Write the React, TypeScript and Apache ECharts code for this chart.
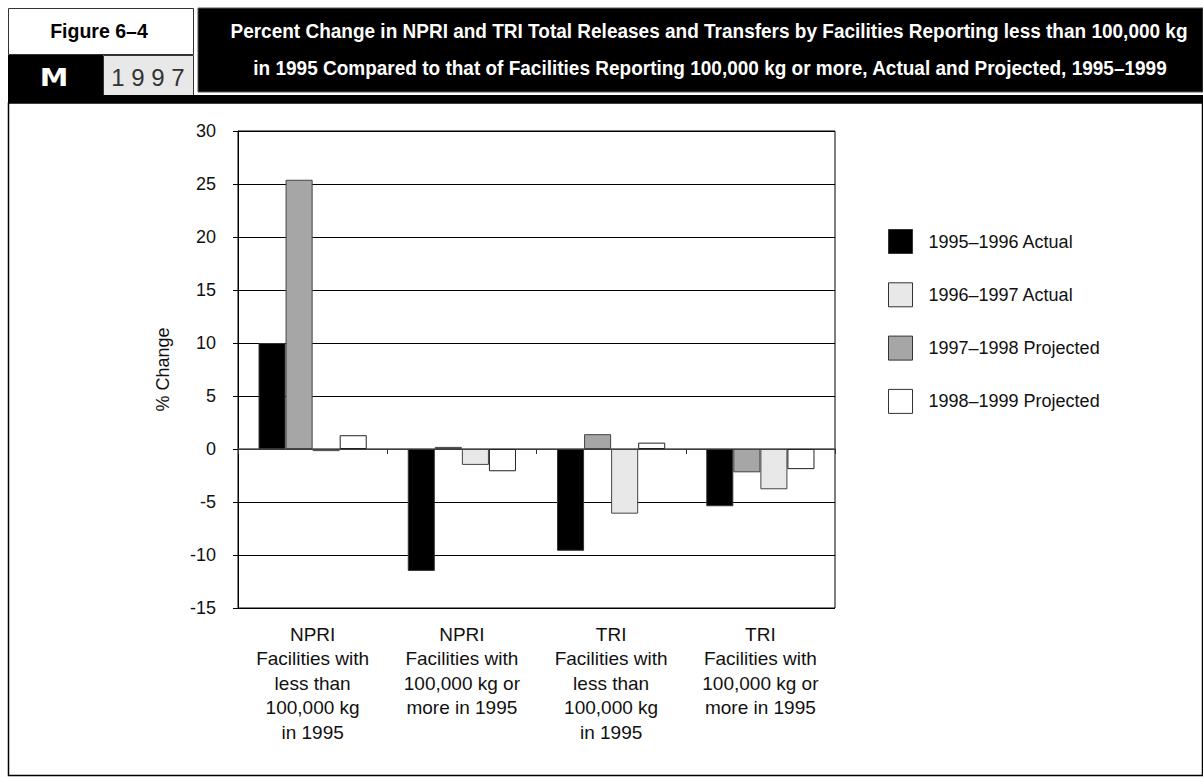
import React, { useEffect, useRef } from "react";
import * as echarts from "echarts";

const categories = [
  "NPRI\nFacilities with\nless than\n100,000 kg\nin 1995",
  "NPRI\nFacilities with\n100,000 kg or\nmore in 1995",
  "TRI\nFacilities with\nless than\n100,000 kg\nin 1995",
  "TRI\nFacilities with\n100,000 kg or\nmore in 1995",
];
const seriesNames = ["1995–1996 Actual", "1996–1997 Actual", "1997–1998 Projected", "1998–1999 Projected"];
const actual9596 = [10.0, -11.5, -9.6, -5.4];
const actual9697 = [-0.2, -1.5, -6.1, -3.8];
const projected9798 = [25.4, 0.2, 1.4, -2.2];
const projected9899 = [1.3, -2.1, 0.6, -1.9];
const yTicks = { min: -15, max: 30, interval: 5 };
const figureLabel = "Figure 6–4";
const badgeLetter = "M";
const badgeYear = "1 9 9 7";
const titleLines = [
  "Percent Change in NPRI and TRI Total Releases and Transfers by Facilities Reporting less than 100,000 kg",
  "in 1995 Compared to that of Facilities Reporting 100,000 kg or more, Actual and Projected, 1995–1999",
];
const yAxisTitle = "% Change";

const FONT = "'Liberation Sans', Arial, sans-serif";

export default function App() {
  const ref = useRef<HTMLDivElement>(null);
  useEffect(() => {
    if (!ref.current) return;
    const chart = echarts.init(ref.current, null, { renderer: "svg" });
    const barBase = { type: "bar", xAxisIndex: 0, yAxisIndex: 0, barGap: "0%", barCategoryGap: "27.5%" };
    chart.setOption({
      animation: false,
      backgroundColor: "#fff",
      grid: {
        left: 238,
        right: 368,
        top: 131,
        bottom: 169,
        show: true,
        borderColor: "#000",
        borderWidth: 1,
        backgroundColor: "transparent",
      },
      legend: {
        orient: "vertical",
        left: 888,
        top: 229,
        itemWidth: 24,
        itemHeight: 24,
        itemGap: 28.3,
        icon: "rect",
        data: seriesNames,
        selectedMode: false,
        padding: 0,
        itemStyle: { borderColor: "#333", borderWidth: 1 },
        textStyle: { fontFamily: FONT, fontSize: 18, color: "#111", padding: [0, 0, 0, 11] },
      },
      xAxis: [
        {
          type: "category",
          data: categories,
          axisLine: { show: true, onZero: true, lineStyle: { color: "#555", width: 1.5 } },
          axisTick: { show: true, length: 5, alignWithLabel: false, lineStyle: { color: "#333" } },
          axisLabel: { show: false },
          splitLine: { show: false },
        },
        {
          type: "category",
          data: categories,
          position: "bottom",
          axisLine: { show: false, onZero: false },
          axisTick: { show: false },
          axisLabel: {
            show: true,
            interval: 0,
            margin: 14,
            fontFamily: FONT,
            fontSize: 19,
            lineHeight: 24.5,
            color: "#111",
            align: "center",
          },
        },
      ],
      yAxis: {
        type: "value",
        min: yTicks.min,
        max: yTicks.max,
        interval: yTicks.interval,
        name: yAxisTitle,
        nameLocation: "middle",
        nameGap: 66,
        nameRotate: 90,
        nameTextStyle: { fontFamily: FONT, fontSize: 18, color: "#111" },
        axisLine: { show: true, lineStyle: { color: "#000", width: 1 } },
        axisTick: { show: true, length: 5, lineStyle: { color: "#000" } },
        axisLabel: { margin: 22, fontFamily: FONT, fontSize: 18, color: "#111" },
        splitLine: { show: true, lineStyle: { color: "#000", width: 1 } },
      },
      series: [
        {
          ...barBase,
          name: seriesNames[0],
          data: actual9596,
          itemStyle: { color: "#000", borderColor: "#333", borderWidth: 1 },
        },
        {
          ...barBase,
          name: seriesNames[2],
          data: projected9798,
          itemStyle: { color: "#a6a6a6", borderColor: "#444", borderWidth: 1 },
        },
        {
          ...barBase,
          name: seriesNames[1],
          data: actual9697,
          itemStyle: { color: "#e8e8e8", borderColor: "#444", borderWidth: 1 },
        },
        {
          ...barBase,
          name: seriesNames[3],
          data: projected9899,
          itemStyle: { color: "#fff", borderColor: "#222", borderWidth: 1 },
        },
      ],
      graphic: [
        { type: "rect", silent: true, shape: { x: 8.5, y: 8.5, width: 185, height: 46 }, style: { fill: "#fff", stroke: "#333", lineWidth: 1 } },
        {
          type: "text",
          silent: true,
          x: 99,
          y: 31,
          scaleX: 0.93,
          style: { text: figureLabel, fill: "#000", font: `bold 21px ${FONT}`, textAlign: "center", textVerticalAlign: "middle" },
        },
        { type: "rect", silent: true, shape: { x: 8, y: 55, width: 95, height: 42 }, style: { fill: "#000" } },
        {
          type: "text",
          silent: true,
          x: 54,
          y: 77,
          scaleX: 1.15,
          style: { text: badgeLetter, fill: "#fff", font: `bold 25px 'DejaVu Sans', sans-serif`, textAlign: "center", textVerticalAlign: "middle" },
        },
        { type: "rect", silent: true, shape: { x: 103.5, y: 55.5, width: 90, height: 40 }, style: { fill: "#e8e8e8", stroke: "#333", lineWidth: 1 } },
        {
          type: "text",
          silent: true,
          x: 148,
          y: 77,
          scaleX: 1.0,
          style: { text: badgeYear, fill: "#333", font: `24px ${FONT}`, textAlign: "center", textVerticalAlign: "middle" },
        },
        { type: "rect", silent: true, shape: { x: 198, y: 8, width: 1005, height: 84 }, style: { fill: "#000", stroke: "#555", lineWidth: 1 } },
        {
          type: "text",
          silent: true,
          x: 709,
          y: 31,
          scaleX: 0.905,
          style: { text: titleLines[0], fill: "#fff", font: `bold 21px ${FONT}`, textAlign: "center", textVerticalAlign: "middle" },
        },
        {
          type: "text",
          silent: true,
          x: 710,
          y: 68,
          scaleX: 0.905,
          style: { text: titleLines[1], fill: "#fff", font: `bold 21px ${FONT}`, textAlign: "center", textVerticalAlign: "middle" },
        },
        { type: "rect", silent: true, shape: { x: 8, y: 95, width: 1195, height: 8 }, style: { fill: "#000" } },
        { type: "rect", silent: true, shape: { x: 8.5, y: 103, width: 1194, height: 672.5 }, style: { fill: "none", stroke: "#000", lineWidth: 1.5 } },
      ],
    });
    return () => chart.dispose();
  }, []);
  return <div ref={ref} style={{ position: "absolute", left: 0, top: 0, width: 1203, height: 777 }} />;
}
